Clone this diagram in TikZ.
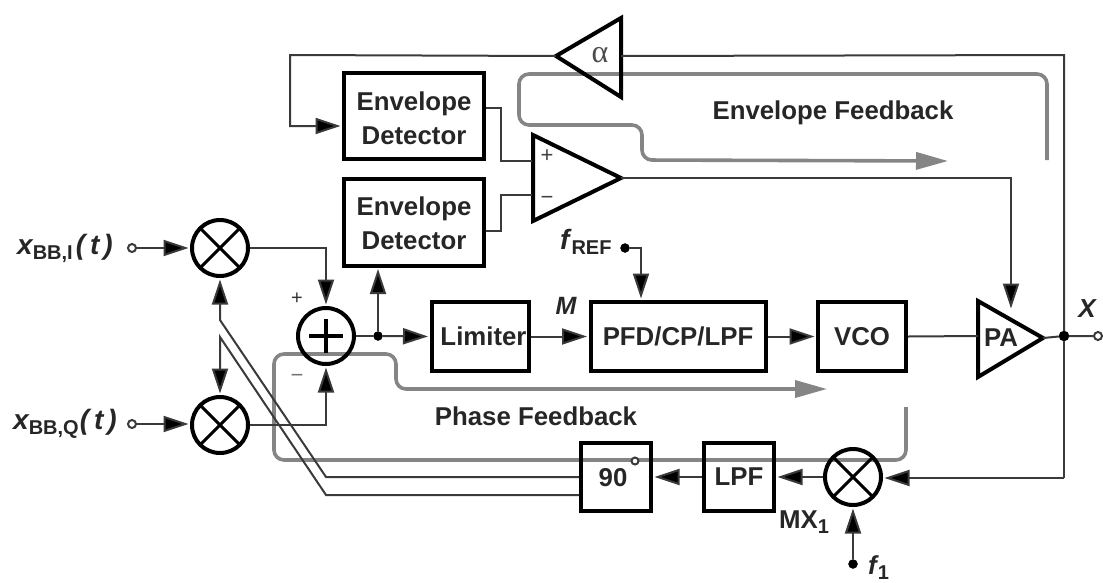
\documentclass[tikz,border=0pt]{standalone}
\usepackage{fontspec}
\setmainfont{Liberation Sans}
\newfontfamily\serifgr{Liberation Serif}
\usetikzlibrary{arrows.meta}
\definecolor{wire}{HTML}{3A3A3A}
\definecolor{flow}{HTML}{858585}
\newcommand{\lbl}{\fontsize{25.8}{34}\selectfont\bfseries}
\newcommand{\sbs}[1]{\raisebox{-5pt}{\fontsize{20}{20}\selectfont\bfseries\upshape #1}}
\tikzset{
  x=1pt,y=-1pt,
  blk/.style={draw=black,line width=4pt,inner sep=0pt,align=center,font=\lbl,text=black!85},
  mix/.style={draw=black,circle,line width=4pt,minimum size=56pt,inner sep=0pt,
    path picture={\draw[black,line width=3pt]
      (path picture bounding box.center)+(-20,-20) -- +(20,20)
      (path picture bounding box.center)+(-20,20) -- +(20,-20);}},
  summ/.style={draw=black,circle,line width=4pt,minimum size=56pt,inner sep=0pt,
    path picture={\draw[black,line width=3.4pt]
      (path picture bounding box.center)+(-17,0) -- +(17,0)
      (path picture bounding box.center)+(0,-17) -- +(0,17);}},
  tri/.style={draw=black,line width=4pt,line join=miter},
  wirel/.style={draw=wire,line width=2pt},
  conn/.style={wirel,-{Triangle[length=25pt,width=16pt,fill=black]},shorten >=1.5pt},
  flowl/.style={draw=flow,line width=3.6pt,rounded corners=10pt,-{Triangle[length=32pt,width=17pt,fill=flow]}},
  dot/.style={circle,fill=black,draw=black,inner sep=0pt,minimum size=10pt},
  port/.style={circle,draw=wire,fill=white,line width=2pt,inner sep=0pt,minimum size=8pt},
  txt/.style={inner sep=0pt,font=\lbl,text=black!85},
}
\begin{document}
\begin{tikzpicture}
\useasboundingbox (0,0) rectangle (1103,582);
% gray feedback paths
\coordinate (eS) at (1047,160);
\coordinate (eA) at (1047,74);
\coordinate (eB) at (519,74);
\coordinate (eC) at (519,125);
\coordinate (eD) at (642,125);
\coordinate (eE) at (642,160);
\coordinate (eT) at (948,161);
\draw[flowl] (eS) -- (eA) -- (eB) -- (eC) -- (eD) -- (eE) -- (eT);
\coordinate (pS) at (906,407);
\coordinate (pA) at (906,460);
\coordinate (pB) at (274,460);
\coordinate (pC) at (274,354);
\coordinate (pD) at (396,354);
\coordinate (pE) at (396,389);
\coordinate (pT) at (827,389);
\draw[flowl] (pS) -- (pA) -- (pB) -- (pC) -- (pD) -- (pE) -- (pT);
% blocks
\node[blk,minimum width=140pt,minimum height=86pt] (ed1) at (414,116) {};
\node[txt,align=center] (ed1t) at (414,118) {Envelope\\Detector};
\node[blk,minimum width=140pt,minimum height=87pt] (ed2) at (414,222) {};
\node[txt,align=center] (ed2t) at (414,223) {Envelope\\Detector};
\node[blk,minimum width=97pt,minimum height=69pt] (lim) at (480,336.5) {\kern7pt Limiter};
\node[blk,minimum width=175pt,minimum height=69pt] (pfd) at (678,336.5) {PFD/CP/LPF};
\node[blk,minimum width=88pt,minimum height=69pt] (vco) at (862,336.5) {VCO};
\node[blk,minimum width=70pt,minimum height=68pt] (ninety) at (616,477) {};
\node[txt] (ninetyt) at (613,478) {90};
\node[port,minimum size=7pt] (deg) at (635,461) {};
\node[blk,minimum width=70pt,minimum height=68pt] (lpf) at (739,477) {LPF};
\node[mix] (m1) at (220,248) {};
\node[mix] (m2) at (220,425) {};
\node[mix] (m3) at (853,477) {};
\node[summ] (sum) at (326,336) {};
% triangles
\coordinate (aTip) at (556,56);
\coordinate (aR) at (621,56);
\draw[tri] (aTip) -- (621,18) -- (621,97) -- cycle;
\node[inner sep=0pt,font=\serifgr\fontsize{32}{32}\selectfont,text=black!70] (alpha) at (600,55) {α};
\coordinate (oP) at (532,161);
\coordinate (oM) at (532,195);
\coordinate (oT) at (621,178);
\draw[tri] (oT) -- (533,135) -- (533,221) -- cycle;
\node[inner sep=0pt,font=\fontsize{22}{22}\selectfont,text=black!75] (oplus) at (547,156) {+};
\node[inner sep=0pt,font=\fontsize{22}{22}\selectfont,text=black!75] (ominus) at (547,200) {−};
\coordinate (paI) at (978,336);
\coordinate (paT) at (1043,338);
\coordinate (paU) at (1011,310);
\draw[tri] (paT) -- (978,301) -- (978,377) -- cycle;
\node[txt] (pa) at (1001,338) {PA};
% wires
\node[dot] (jX) at (1064,336) {};
\node[port] (oX) at (1098,336) {};
\draw[wirel] (vco.east) -- (paI);
\draw[wirel] (paT) -- (jX) -- (oX);
\coordinate (tr) at (1064,55);
\coordinate (tl) at (290,55);
\coordinate (tld) at (290,126);
\draw[wirel] (jX) -- (tr) -- (aR);
\draw[conn] (aTip) -- (tl) -- (tld) -- (ed1.west |- tld);
\coordinate (mIn) at (1064,478);
\draw[wirel] (jX) -- (mIn);
\draw[conn] (mIn) -- (m3.east |- mIn);
\draw[conn] (m3.west) -- (lpf.east);
\draw[conn] (lpf.west) -- (ninety.east);
\node[dot,minimum size=9pt] (f1) at (853,564) {};
\draw[conn] (f1) -- (m3.south);
\coordinate (e1o) at (485,108);
\coordinate (e1m) at (501,108);
\coordinate (e1n) at (501,161);
\draw[wirel] (ed1.east |- e1o) -- (e1m) -- (e1n) -- (oP);
\coordinate (e2o) at (485,231);
\coordinate (e2m) at (501,231);
\coordinate (e2n) at (501,195);
\draw[wirel] (ed2.east |- e2o) -- (e2m) -- (e2n) -- (oM);
\coordinate (ob) at (1011,178);
\draw[conn] (oT) -- (ob) -- (paU);
% inputs
\node[port] (iI) at (132,248) {};
\node[port] (iQ) at (132,424) {};
\draw[conn] (iI) -- (m1.west);
\draw[conn] (iQ) -- (iQ -| m2.west);
\coordinate (c1) at (326,248);
\coordinate (c2) at (326,425);
\draw[conn] (m1.east) -- (c1) -- (sum.north);
\draw[conn] (m2.east) -- (c2) -- (sum.south);
\node[dot,minimum size=9pt] (j1) at (378,336) {};
\draw[wirel] (sum.east) -- (j1);
\draw[conn] (j1) -- (lim.west);
\draw[conn] (j1) -- (j1 |- ed2.south);
\draw[conn] (lim.east) -- (pfd.west);
\draw[conn] (pfd.east) -- (vco.west);
\node[dot,minimum size=9pt] (fr) at (625,248) {};
\coordinate (frc) at (641,248);
\draw[conn] (fr) -- (frc) -- (frc |- pfd.north);
% quadrature lines
\coordinate (q1a) at (580,477);
\coordinate (q1b) at (326,477);
\coordinate (q1c) at (220,320);
\draw[conn] (ninety.west |- q1a) -- (q1b) -- (q1c) -- (m1.south);
\coordinate (q2a) at (580,495);
\coordinate (q2b) at (326,495);
\coordinate (q2c) at (220,337);
\draw[conn] (ninety.west |- q2a) -- (q2b) -- (q2c) -- (m2.north);
% labels
\node[txt,anchor=west] (lxi) at (17,248) {\fontsize{28}{28}\selectfont\itshape x\sbs{BB,I}\kern3pt(\kern5pt t\kern4pt)};
\node[txt,anchor=west] (lxq) at (13,424) {\fontsize{28}{28}\selectfont\itshape x\sbs{BB,Q}\kern1pt(\kern5pt t\kern4pt)};
\node[txt,anchor=west,font=\fontsize{28}{28}\selectfont\bfseries\itshape] (lfr) at (560,242) {f\kern2pt\sbs{REF}};
\node[txt,anchor=west,font=\fontsize{26}{26}\selectfont\bfseries\itshape] (lf1) at (868,568) {f\kern1pt\sbs{1}};
\node[txt,font=\fontsize{25}{25}\selectfont\bfseries\itshape] (lm) at (566,306) {M};
\node[txt,font=\fontsize{26}{26}\selectfont\bfseries\itshape] (lx) at (1087,309) {X};
\node[txt,anchor=west] (lmx) at (779,522) {MX\sbs{1}};
\node[txt] (lef) at (833,113) {Envelope Feedback};
\node[txt] (lpf2) at (536,416) {Phase Feedback};
\node[inner sep=0pt,font=\fontsize{20}{20}\selectfont,text=black!80] (splus) at (297,299) {+};
\node[inner sep=0pt,font=\fontsize{22}{22}\selectfont,text=black!55] (sminus) at (297,378) {−};
\end{tikzpicture}
\end{document}
